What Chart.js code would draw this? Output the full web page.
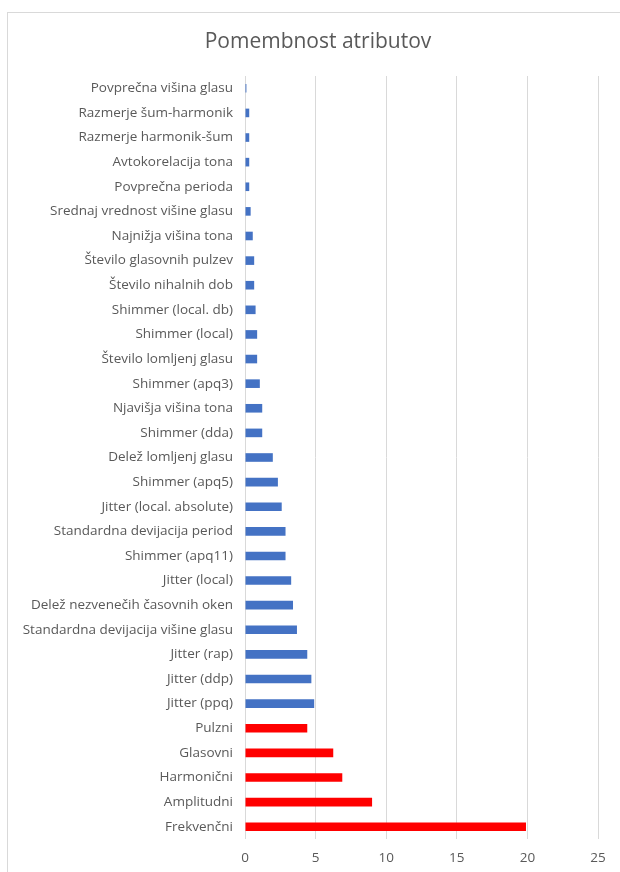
<!DOCTYPE html>
<html>
<head>
<meta charset="utf-8">
<script src="https://cdn.jsdelivr.net/npm/chart.js@4"></script>
<style>
  html, body { margin: 0; padding: 0; background: #fff; }
  #wrap { position: relative; width: 620px; height: 872px; }
  #frame { position: absolute; left: 7px; top: 12px; width: 640px; height: 900px; border: 1px solid #d9d9d9; box-sizing: border-box; }
  canvas { position: absolute; left: 0; top: 0; }
</style>
</head>
<body>
<div id="wrap">
  <div id="frame"></div>
  <canvas id="c" width="620" height="872"></canvas>
</div>
<script>
const chartTitle = 'Pomembnost atributov';
const categories = [
  "Povprečna višina glasu",
  "Razmerje šum-harmonik",
  "Razmerje harmonik-šum",
  "Avtokorelacija tona",
  "Povprečna perioda",
  "Srednaj vrednost višine glasu",
  "Najnižja višina tona",
  "Število glasovnih pulzev",
  "Število nihalnih dob",
  "Shimmer (local. db)",
  "Shimmer (local)",
  "Število lomljenj glasu",
  "Shimmer (apq3)",
  "Njavišja višina tona",
  "Shimmer (dda)",
  "Delež lomljenj glasu",
  "Shimmer (apq5)",
  "Jitter (local. absolute)",
  "Standardna devijacija period",
  "Shimmer (apq11)",
  "Jitter (local)",
  "Delež nezvenečih časovnih oken",
  "Standardna devijacija višine glasu",
  "Jitter (rap)",
  "Jitter (ddp)",
  "Jitter (ppq)",
  "Pulzni",
  "Glasovni",
  "Harmonični",
  "Amplitudni",
  "Frekvenčni"
];
const importance = [
  0.1, 0.3, 0.3, 0.3, 0.3, 0.4, 0.55, 0.65, 0.65, 0.75,
  0.86, 0.86, 1.05, 1.22, 1.22, 1.97, 2.33, 2.6, 2.87, 2.87,
  3.27, 3.4, 3.68, 4.41, 4.7, 4.9,
  4.41, 6.25, 6.89, 9.0, 19.9
];
const isGroup = [
  0,0,0,0,0,0,0,0,0,0,
  0,0,0,0,0,0,0,0,0,0,
  0,0,0,0,0,0,
  1,1,1,1,1
];
const xTicks = [0, 5, 10, 15, 20, 25];

const BLUE = '#4472C4', RED = '#FF0000';
const FONT = "'Open Sans', 'Noto Sans', sans-serif";

const titlePlugin = {
  id: 'frameTitle',
  afterDraw(chart) {
    const ctx = chart.ctx;
    ctx.save();
    ctx.font = "normal 21px " + FONT;
    ctx.fillStyle = '#595959';
    ctx.textAlign = 'center';
    ctx.textBaseline = 'middle';
    ctx.fillText(chartTitle, 318, 42);
    ctx.restore();
  }
};

new Chart(document.getElementById('c'), {
  type: 'bar',
  data: {
    labels: categories,
    datasets: [{
      data: importance,
      backgroundColor: isGroup.map(g => g ? RED : BLUE),
      barPercentage: 0.35,
      categoryPercentage: 1.0
    }]
  },
  plugins: [titlePlugin],
  options: {
    indexAxis: 'y',
    responsive: false,
    animation: false,
    layout: { padding: { left: 10, right: 22, top: 76, bottom: 0 } },
    plugins: {
      legend: { display: false },
      tooltip: { enabled: false },
      title: { display: false }
    },
    scales: {
      x: {
        min: 0, max: 25,
        afterBuildTicks: s => { s.ticks = xTicks.map(v => ({ value: v })); },
        afterFit: s => { s.height = 33; },
        grid: { color: '#d9d9d9', lineWidth: 1, drawTicks: false },
        border: { display: false },
        ticks: { color: '#595959', font: { family: FONT, size: 13.5 }, padding: 11 }
      },
      y: {
        grid: { display: false, drawTicks: false },
        border: { display: false },
        afterFit: s => { s.width = 235; },
        ticks: { color: '#595959', font: { family: FONT, size: 13.5 }, padding: 12, autoSkip: false }
      }
    }
  }
});
</script>
</body>
</html>
